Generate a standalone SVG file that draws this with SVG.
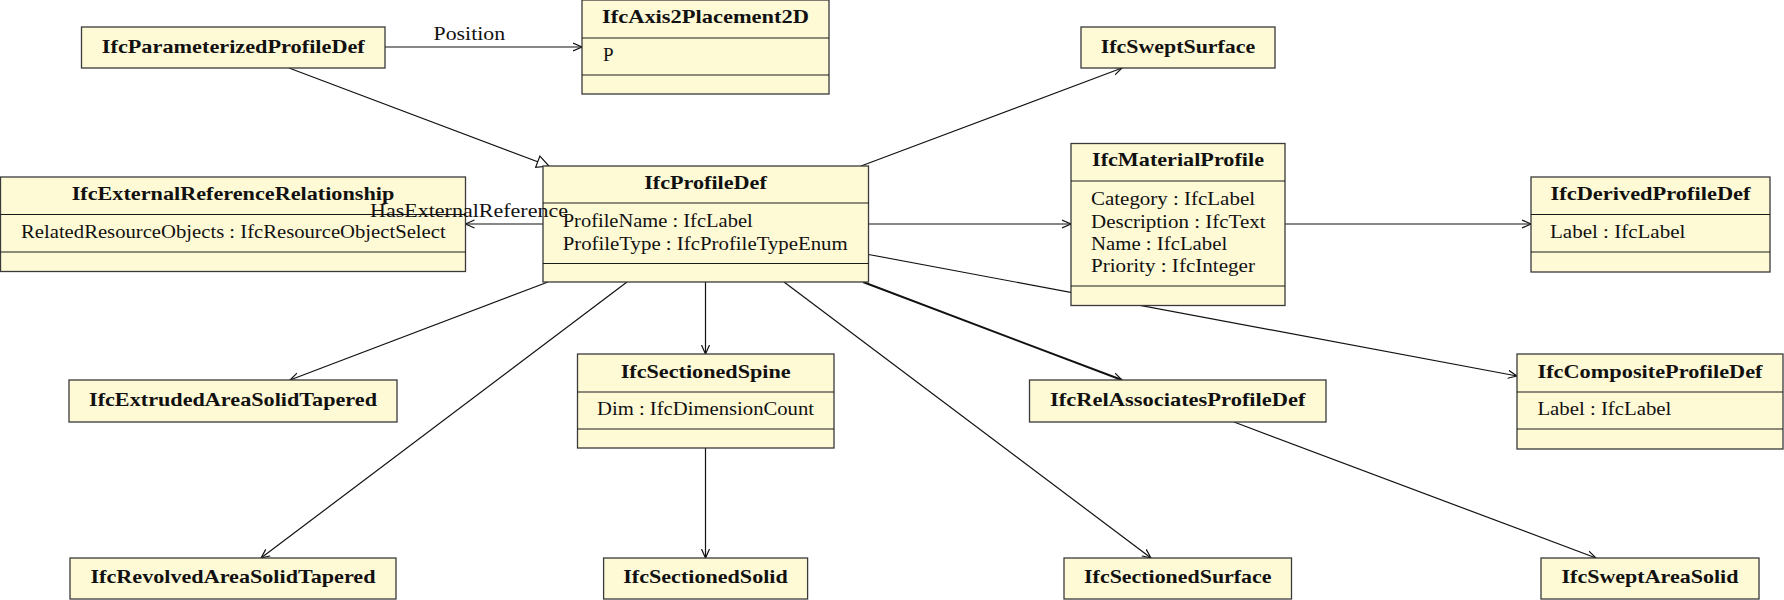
<svg xmlns="http://www.w3.org/2000/svg" width="1784" height="600" viewBox="0 0 1784 600">
<style>
.box{fill:#fffad6;stroke:#3a3a3a;stroke-width:1.3}
.div{stroke:#1a1a1a;stroke-width:1.1}
.t{font-family:"Liberation Serif","Times New Roman",serif;font-weight:bold;font-size:19px;fill:#111;text-anchor:middle}
.a{font-family:"Liberation Serif","Times New Roman",serif;font-size:19px;fill:#111}
.l{font-family:"Liberation Serif","Times New Roman",serif;font-size:19px;fill:#111}
.e{stroke:#111;stroke-width:1.2;fill:none}
</style>
<defs>
<marker id="arr" markerUnits="userSpaceOnUse" markerWidth="12" markerHeight="12" refX="9" refY="5" orient="auto">
<path d="M0,1 L9,5 L0,9" fill="none" stroke="#111" stroke-width="1.2"/>
</marker>
<marker id="tri" markerUnits="userSpaceOnUse" markerWidth="16" markerHeight="16" refX="13" refY="7" orient="auto">
<path d="M1,1 L13,7 L1,13 Z" fill="#fff" stroke="#111" stroke-width="1.2"/>
</marker>
</defs>
<rect width="1784" height="600" fill="#fff"/>
<g id="connectors">
<line class="e" x1="385" y1="47" x2="582" y2="47" marker-end="url(#arr)"/>
<line class="e" x1="289" y1="68" x2="549" y2="166" marker-end="url(#tri)"/>
<line class="e" x1="543" y1="224" x2="465.5" y2="224" marker-end="url(#arr)"/>
<line class="e" x1="861" y1="166" x2="1122" y2="68" marker-end="url(#arr)"/>
<line class="e" x1="868.5" y1="224" x2="1071" y2="224" marker-end="url(#arr)"/>
<line class="e" x1="1285" y1="224" x2="1531" y2="224" marker-end="url(#arr)"/>
<line class="e" x1="868.5" y1="254.5" x2="1517" y2="376" marker-end="url(#arr)"/>
<line class="e" x1="548" y1="282" x2="290" y2="380" marker-end="url(#arr)"/>
<line class="e" x1="627" y1="282" x2="261" y2="558" marker-end="url(#arr)"/>
<line class="e" x1="705.5" y1="282" x2="705.5" y2="354" marker-end="url(#arr)"/>
<line class="e" x1="705.5" y1="448" x2="705.5" y2="558" marker-end="url(#arr)"/>
<line class="e" x1="784" y1="282" x2="1151" y2="558" marker-end="url(#arr)"/>
<line class="e" style="stroke-width:1.9" x1="863" y1="282" x2="1122" y2="380" marker-end="url(#arr)"/>
<line class="e" x1="1234" y1="422" x2="1596" y2="558" marker-end="url(#arr)"/>
</g>
<g id="IfcParameterizedProfileDef">
<rect class="box" x="81.5" y="27" width="303.5" height="41"/>
<text class="t" x="233.3" y="53" textLength="263" lengthAdjust="spacingAndGlyphs">IfcParameterizedProfileDef</text>
</g>
<g id="IfcAxis2Placement2D">
<rect class="box" x="582" y="0" width="247" height="94"/>
<line class="div" x1="582" y1="38" x2="829" y2="38"/>
<line class="div" x1="582" y1="75" x2="829" y2="75"/>
<text class="t" x="705.5" y="23" textLength="207" lengthAdjust="spacingAndGlyphs">IfcAxis2Placement2D</text>
<text class="a" x="603" y="61">P</text>
</g>
<g id="IfcSweptSurface">
<rect class="box" x="1081" y="27" width="194" height="41"/>
<text class="t" x="1178" y="53" textLength="154.5" lengthAdjust="spacingAndGlyphs">IfcSweptSurface</text>
</g>
<g id="IfcExternalReferenceRelationship">
<rect class="box" x="0.5" y="177" width="465" height="94.5"/>
<line class="div" x1="0.5" y1="214.5" x2="465.5" y2="214.5"/>
<line class="div" x1="0.5" y1="252" x2="465.5" y2="252"/>
<text class="t" x="233" y="200" textLength="322.6" lengthAdjust="spacingAndGlyphs">IfcExternalReferenceRelationship</text>
<text class="a" x="21" y="238" textLength="424.7" lengthAdjust="spacingAndGlyphs">RelatedResourceObjects : IfcResourceObjectSelect</text>
</g>
<g id="IfcProfileDef">
<rect class="box" x="543" y="166" width="325.5" height="116"/>
<line class="div" x1="543" y1="203" x2="868.5" y2="203"/>
<line class="div" x1="543" y1="263.5" x2="868.5" y2="263.5"/>
<text class="t" x="705.5" y="188.5" textLength="122.7" lengthAdjust="spacingAndGlyphs">IfcProfileDef</text>
<text class="a" x="562.7" y="227" textLength="190" lengthAdjust="spacingAndGlyphs">ProfileName : IfcLabel</text>
<text class="a" x="562.7" y="249.5" textLength="285" lengthAdjust="spacingAndGlyphs">ProfileType : IfcProfileTypeEnum</text>
</g>
<g id="IfcMaterialProfile">
<rect class="box" x="1071" y="143.5" width="214" height="162"/>
<line class="div" x1="1071" y1="181" x2="1285" y2="181"/>
<line class="div" x1="1071" y1="286" x2="1285" y2="286"/>
<text class="t" x="1178" y="166" textLength="172" lengthAdjust="spacingAndGlyphs">IfcMaterialProfile</text>
<text class="a" x="1091" y="205" textLength="164" lengthAdjust="spacingAndGlyphs">Category : IfcLabel</text>
<text class="a" x="1091" y="227.5" textLength="174.6" lengthAdjust="spacingAndGlyphs">Description : IfcText</text>
<text class="a" x="1091" y="250" textLength="136.2" lengthAdjust="spacingAndGlyphs">Name : IfcLabel</text>
<text class="a" x="1091" y="272" textLength="164" lengthAdjust="spacingAndGlyphs">Priority : IfcInteger</text>
</g>
<g id="IfcDerivedProfileDef">
<rect class="box" x="1531" y="177" width="239" height="95"/>
<line class="div" x1="1531" y1="214.5" x2="1770" y2="214.5"/>
<line class="div" x1="1531" y1="252" x2="1770" y2="252"/>
<text class="t" x="1650.5" y="200" textLength="200" lengthAdjust="spacingAndGlyphs">IfcDerivedProfileDef</text>
<text class="a" x="1550" y="238" textLength="135.3" lengthAdjust="spacingAndGlyphs">Label : IfcLabel</text>
</g>
<g id="IfcExtrudedAreaSolidTapered">
<rect class="box" x="69" y="380" width="328" height="42"/>
<text class="t" x="233" y="406" textLength="288" lengthAdjust="spacingAndGlyphs">IfcExtrudedAreaSolidTapered</text>
</g>
<g id="IfcSectionedSpine">
<rect class="box" x="577.5" y="354" width="256.5" height="94"/>
<line class="div" x1="577.5" y1="392" x2="834" y2="392"/>
<line class="div" x1="577.5" y1="429" x2="834" y2="429"/>
<text class="t" x="705.7" y="377.7" textLength="170" lengthAdjust="spacingAndGlyphs">IfcSectionedSpine</text>
<text class="a" x="597" y="415" textLength="217" lengthAdjust="spacingAndGlyphs">Dim : IfcDimensionCount</text>
</g>
<g id="IfcRelAssociatesProfileDef">
<rect class="box" x="1029.5" y="380" width="296.5" height="42"/>
<text class="t" x="1177.8" y="406" textLength="255.5" lengthAdjust="spacingAndGlyphs">IfcRelAssociatesProfileDef</text>
</g>
<g id="IfcCompositeProfileDef">
<rect class="box" x="1517" y="354" width="266" height="95"/>
<line class="div" x1="1517" y1="392" x2="1783" y2="392"/>
<line class="div" x1="1517" y1="429" x2="1783" y2="429"/>
<text class="t" x="1650" y="377.7" textLength="225" lengthAdjust="spacingAndGlyphs">IfcCompositeProfileDef</text>
<text class="a" x="1537.4" y="415" textLength="134" lengthAdjust="spacingAndGlyphs">Label : IfcLabel</text>
</g>
<g id="IfcRevolvedAreaSolidTapered">
<rect class="box" x="70" y="558" width="326" height="41"/>
<text class="t" x="233" y="583" textLength="285" lengthAdjust="spacingAndGlyphs">IfcRevolvedAreaSolidTapered</text>
</g>
<g id="IfcSectionedSolid">
<rect class="box" x="603.6" y="558" width="204" height="41"/>
<text class="t" x="705.5" y="583" textLength="164.6" lengthAdjust="spacingAndGlyphs">IfcSectionedSolid</text>
</g>
<g id="IfcSectionedSurface">
<rect class="box" x="1064" y="558" width="227.5" height="41"/>
<text class="t" x="1177.8" y="583" textLength="187.4" lengthAdjust="spacingAndGlyphs">IfcSectionedSurface</text>
</g>
<g id="IfcSweptAreaSolid">
<rect class="box" x="1541" y="558" width="218" height="41"/>
<text class="t" x="1650" y="583" textLength="177" lengthAdjust="spacingAndGlyphs">IfcSweptAreaSolid</text>
</g>
<g id="labels">
<text class="l" x="433.6" y="40" textLength="71.5" lengthAdjust="spacingAndGlyphs">Position</text>
<text class="l" x="370" y="217" textLength="198" lengthAdjust="spacingAndGlyphs">HasExternalReference</text>
</g>
</svg>
